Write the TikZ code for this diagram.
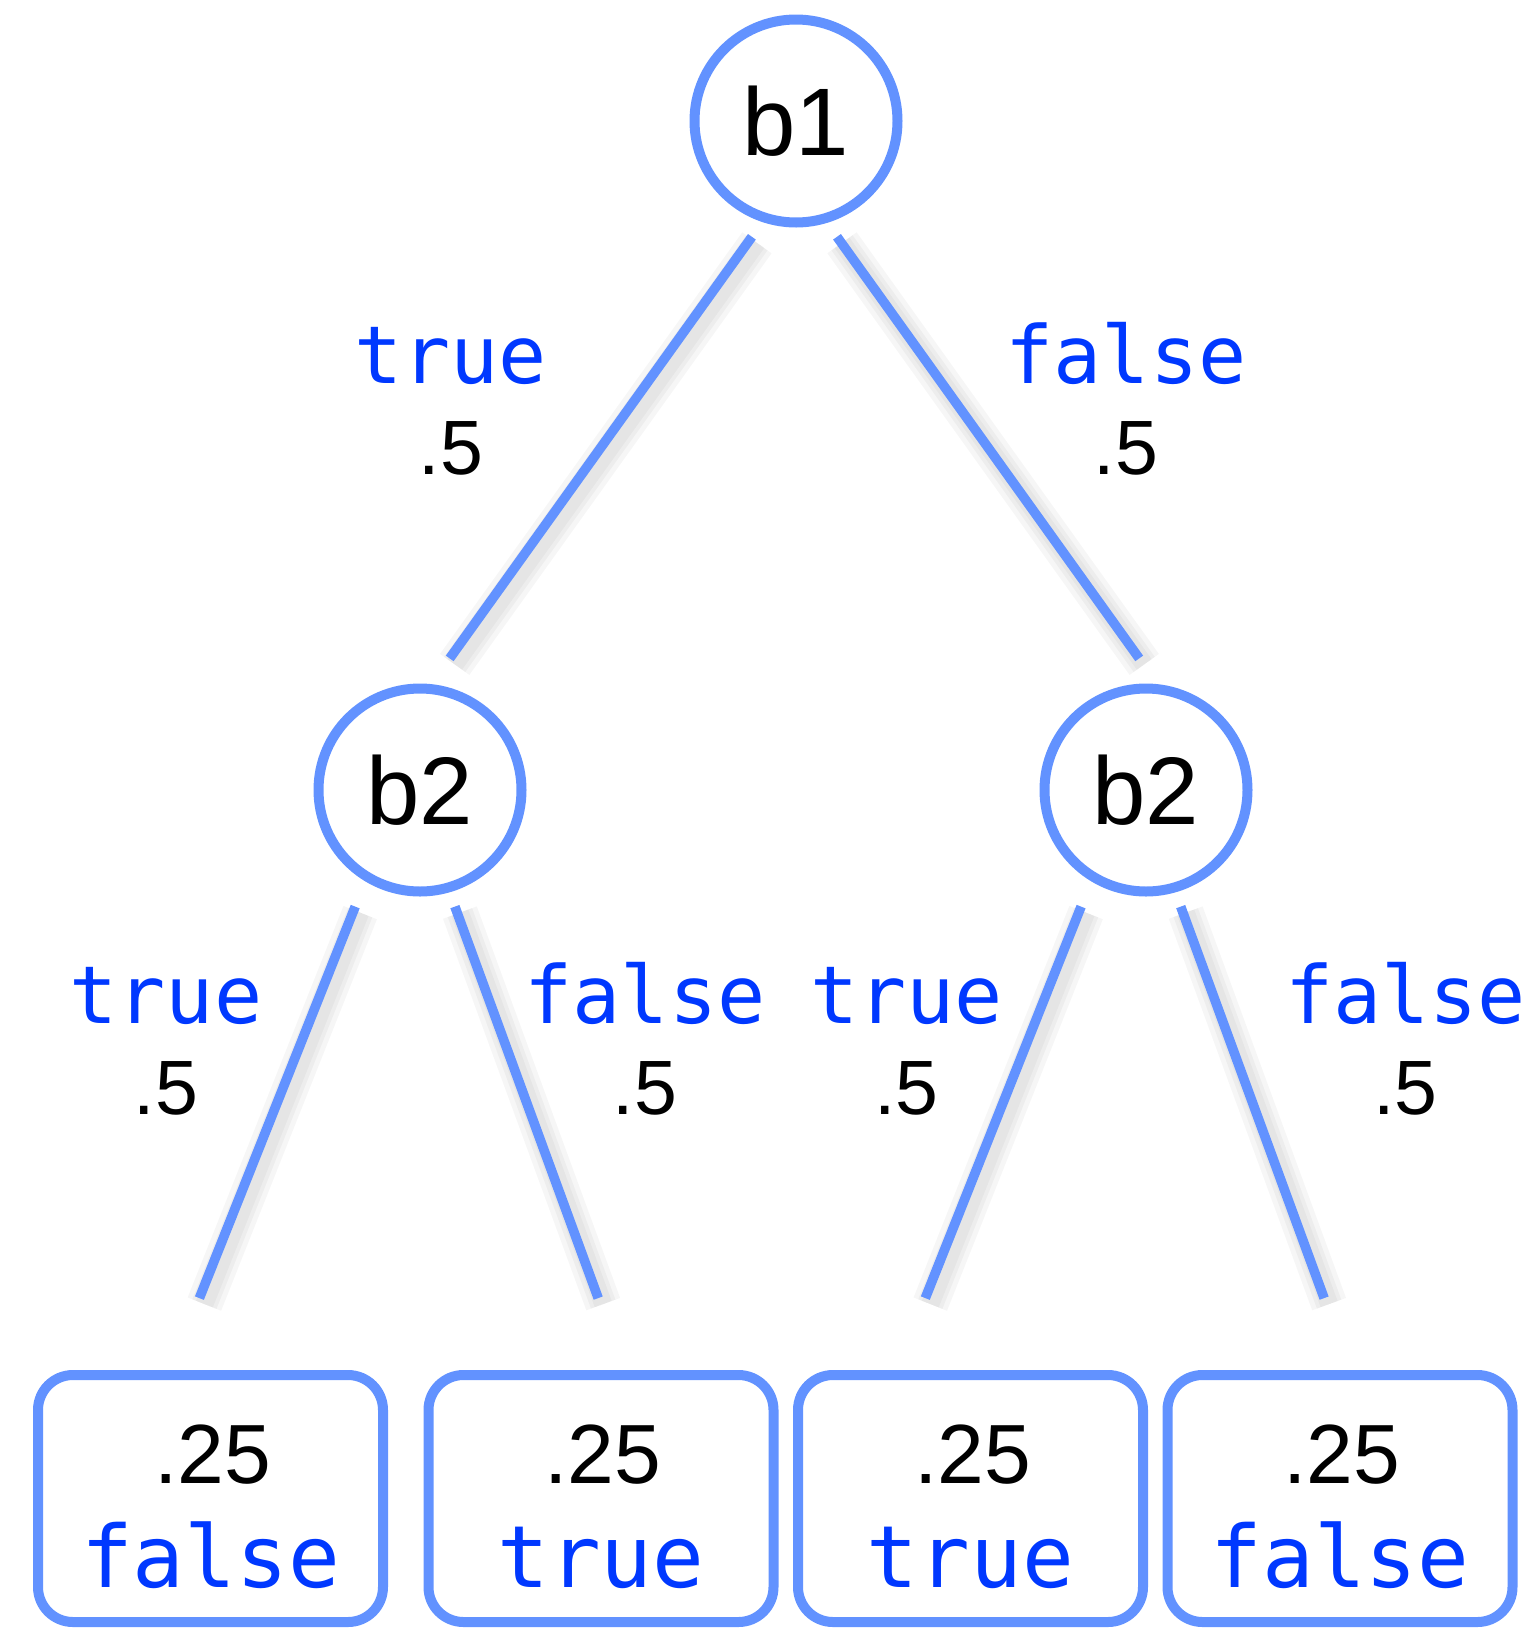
\documentclass[tikz,border=0pt]{standalone}
\usepackage{fontspec}
\setmainfont{Liberation Sans}
\setmonofont{DejaVu Sans Mono}
\usetikzlibrary{calc, positioning}

\definecolor{treeblue}{RGB}{98,146,255}
\definecolor{valblue}{RGB}{0,56,255}

\begin{document}
\begin{tikzpicture}[
        x=0.5pt, y=-0.5pt,
        var/.style={circle, draw=treeblue, fill=white, line width=5pt, minimum size=101.5pt, inner sep=0pt, font=\fontsize{48}{56}\selectfont},
        leaf/.style={draw=treeblue, fill=white, line width=5pt, rounded corners=17.5pt, minimum width=172.5pt, minimum height=123.5pt, inner sep=0pt},
        branch/.style={draw=treeblue, line width=4.8pt},
        bshadow/.style={draw=black, line width=#1, opacity=0.035},
        val/.style={text=valblue, anchor=base, font=\ttfamily\fontsize{40}{48}\selectfont},
        prob/.style={anchor=base, font=\fontsize{38.5}{46}\selectfont},
        leafval/.style={text=valblue, anchor=base, font=\ttfamily\fontsize{43}{50}\selectfont},
        leafprob/.style={anchor=base, font=\fontsize{42}{50}\selectfont}
    ]
    \useasboundingbox (0,0) rectangle (1538,1628);

    % ================= Branch ends =================
    \coordinate (a1) at (751.9,236.8);  \coordinate (a2) at (449.7,658.4);
    \coordinate (b1s) at (837,236.8);   \coordinate (b1t) at (1139.2,658.4);
    \coordinate (c1) at (355.2,906.6);  \coordinate (c2) at (199.4,1298.1);
    \coordinate (d1) at (454.9,906.6);  \coordinate (d2) at (598.2,1298.1);
    \coordinate (e1) at (1081.1,906.6); \coordinate (e2) at (925.3,1298.1);
    \coordinate (f1) at (1180.7,906.6); \coordinate (f2) at (1324.1,1298.1);

    % Branches with a soft shadow
    \foreach \s/\t in {a1/a2, b1s/b1t, c1/c2, d1/d2, e1/e2, f1/f2} {
        \foreach \w in {18,13,9}
            \draw[bshadow=\w pt] ([shift={(5,6)}]\s) -- ([shift={(5,6)}]\t);
        \draw[branch] (\s) -- (\t);
    }

    % ================= Variables =================
    \node[var] (b1) at (796,121) {b1};
    \node[var] (b2l) at (420,790) {b2};
    \node[var] (b2r) at (1146,790) {b2};

    % Branch labels
    \node[val] (lt) at (450.7,383.5) {true};
    \node[prob] (ltp) at (450.7,474) {.5};
    \node[val] (rf) at (1126,383.5) {false};
    \node[prob] (rfp) at (1126,474) {.5};

    \node[val] (llt) at (166,1023.3) {true};
    \node[prob] (lltp) at (166,1114) {.5};
    \node[val] (lrf) at (645,1023.3) {false};
    \node[prob] (lrfp) at (645,1114) {.5};
    \node[val] (rlt) at (906.6,1023.3) {true};
    \node[prob] (rltp) at (906.6,1114) {.5};
    \node[val] (rrf) at (1405.6,1023.3) {false};
    \node[prob] (rrfp) at (1405.6,1114) {.5};

    % ================= Outcomes =================
    \node[leaf] (l1) at (210.5,1498.5) {};
    \node[leaf] (l2) at (601,1498.5) {};
    \node[leaf] (l3) at (970.5,1498.5) {};
    \node[leaf] (l4) at (1340,1498.5) {};

    \foreach \l/\v in {l1/false, l2/true, l3/true, l4/false} {
        \node[leafprob] (\l p) at ($(\l)+(2,-15.5)$) {.25};
        \node[leafval] (\l v) at ($(\l)+(0,88.5)$) {\v};
    }

\end{tikzpicture}
\end{document}
